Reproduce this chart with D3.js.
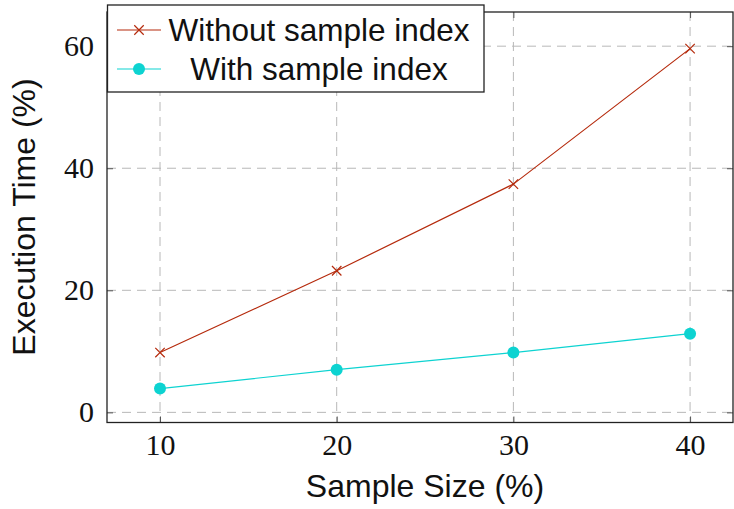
<!DOCTYPE html>
<html>
<head>
<meta charset="utf-8">
<script src="https://cdn.jsdelivr.net/npm/d3@7"></script>
<style>
  body { margin: 0; background: #fff; }
  .tick text { font-family: "Liberation Serif", serif; }
</style>
</head>
<body>
<svg id="chart" width="734" height="509"></svg>
<script>
const sampleSizes = [10, 20, 30, 40];
const withoutIndex = [9.8, 23.2, 37.4, 59.6];
const withIndex = [3.9, 7.0, 9.8, 12.9];
const xTicks = [10, 20, 30, 40];
const yTicks = [0, 20, 40, 60];

const svg = d3.select('#chart');
const frame = {left: 107, right: 733, top: 12, bottom: 422.5};

const xScale = d3.scaleLinear().domain([7.0, 42.43]).range([frame.left, frame.right]);
const yScale = d3.scaleLinear().domain([-1.66, 65.6]).range([frame.bottom, frame.top]);

const red = '#b52a0c';
const cyan = '#0dd3d1';
const sans = '"Liberation Sans", Arial, sans-serif';

// grid
svg.append('g').selectAll('line').data(xTicks).enter().append('line')
  .attr('x1', d => xScale(d)).attr('x2', d => xScale(d))
  .attr('y1', frame.top).attr('y2', frame.bottom)
  .attr('stroke', '#b8b8b8').attr('stroke-width', 1).attr('stroke-dasharray', '9,6');
svg.append('g').selectAll('line').data(yTicks).enter().append('line')
  .attr('y1', d => yScale(d)).attr('y2', d => yScale(d))
  .attr('x1', frame.left).attr('x2', frame.right)
  .attr('stroke', '#b8b8b8').attr('stroke-width', 1).attr('stroke-dasharray', '9,6');

// axes with inward ticks
const xAxis = d3.axisBottom(xScale).tickValues(xTicks).tickSizeInner(-6).tickSizeOuter(0).tickPadding(11);
const yAxis = d3.axisLeft(yScale).tickValues(yTicks).tickSizeInner(-6).tickSizeOuter(0).tickPadding(13);
const xAxisGroup = svg.append('g').attr('transform', `translate(0, ${frame.bottom})`).call(xAxis);
const yAxisGroup = svg.append('g').attr('transform', `translate(${frame.left}, 0)`).call(yAxis);
const xTop = svg.append('g').attr('transform', `translate(0, ${frame.top})`)
  .call(d3.axisTop(xScale).tickValues(xTicks).tickSizeInner(-6).tickSizeOuter(0).tickFormat(''));
const yRight = svg.append('g').attr('transform', `translate(${frame.right}, 0)`)
  .call(d3.axisRight(yScale).tickValues(yTicks).tickSizeInner(-6).tickSizeOuter(0).tickFormat(''));
[xAxisGroup, yAxisGroup, xTop, yRight].forEach(g => {
  g.select('.domain').remove();
  g.selectAll('.tick line').attr('stroke', '#555').attr('stroke-width', 1);
});
svg.selectAll('.tick text').attr('font-size', '30px').attr('fill', '#111');

// frame
svg.append('rect')
  .attr('x', frame.left).attr('y', frame.top)
  .attr('width', frame.right - frame.left).attr('height', frame.bottom - frame.top)
  .attr('fill', 'none').attr('stroke', '#222').attr('stroke-width', 1.3);

// lines
const line = d3.line().x(d => xScale(d[0])).y(d => yScale(d[1]));
const redData = sampleSizes.map((s, i) => [s, withoutIndex[i]]);
const cyanData = sampleSizes.map((s, i) => [s, withIndex[i]]);

svg.append('path').datum(redData).attr('d', line)
  .attr('fill', 'none').attr('stroke', red).attr('stroke-width', 1.2);
svg.append('path').datum(cyanData).attr('d', line)
  .attr('fill', 'none').attr('stroke', cyan).attr('stroke-width', 1.2);

const cross = d3.symbol().type(d3.symbolX).size(60);
svg.append('g').selectAll('path').data(redData).enter().append('path')
  .attr('d', cross)
  .attr('transform', d => `translate(${xScale(d[0])}, ${yScale(d[1])})`)
  .attr('fill', 'none').attr('stroke', red).attr('stroke-width', 1.2);
svg.append('g').selectAll('circle').data(cyanData).enter().append('circle')
  .attr('cx', d => xScale(d[0])).attr('cy', d => yScale(d[1])).attr('r', 6)
  .attr('fill', cyan);

// axis titles
svg.append('text')
  .attr('x', 425).attr('y', 497)
  .attr('text-anchor', 'middle')
  .attr('font-family', sans)
  .attr('font-size', '32px')
  .attr('fill', '#111')
  .text('Sample Size (%)');
svg.append('text')
  .attr('transform', 'translate(35, 217) rotate(-90)')
  .attr('text-anchor', 'middle')
  .attr('font-family', sans)
  .attr('font-size', '32px')
  .attr('fill', '#111')
  .text('Execution Time (%)');

// legend
const legend = svg.append('g');
legend.append('rect')
  .attr('x', 107.5).attr('y', 5).attr('width', 376.5).attr('height', 87)
  .attr('fill', '#fff').attr('stroke', '#222').attr('stroke-width', 1.3);
const legendItems = [
  {label: 'Without sample index', color: red, mark: 'x', y: 30},
  {label: 'With sample index', color: cyan, mark: 'o', y: 69}
];
legendItems.forEach(item => {
  legend.append('line')
    .attr('x1', 117).attr('x2', 161).attr('y1', item.y).attr('y2', item.y)
    .attr('stroke', item.color).attr('stroke-width', 1.2);
  if (item.mark === 'x') {
    legend.append('path').attr('d', cross)
      .attr('transform', `translate(139, ${item.y})`)
      .attr('fill', 'none').attr('stroke', item.color).attr('stroke-width', 1.2);
  } else {
    legend.append('circle').attr('cx', 139).attr('cy', item.y).attr('r', 6).attr('fill', item.color);
  }
  legend.append('text')
    .attr('x', 319).attr('y', item.y + 11)
    .attr('text-anchor', 'middle')
    .attr('font-family', sans)
    .attr('font-size', '31.5px')
    .attr('fill', '#111')
    .text(item.label);
});
</script>
</body>
</html>
